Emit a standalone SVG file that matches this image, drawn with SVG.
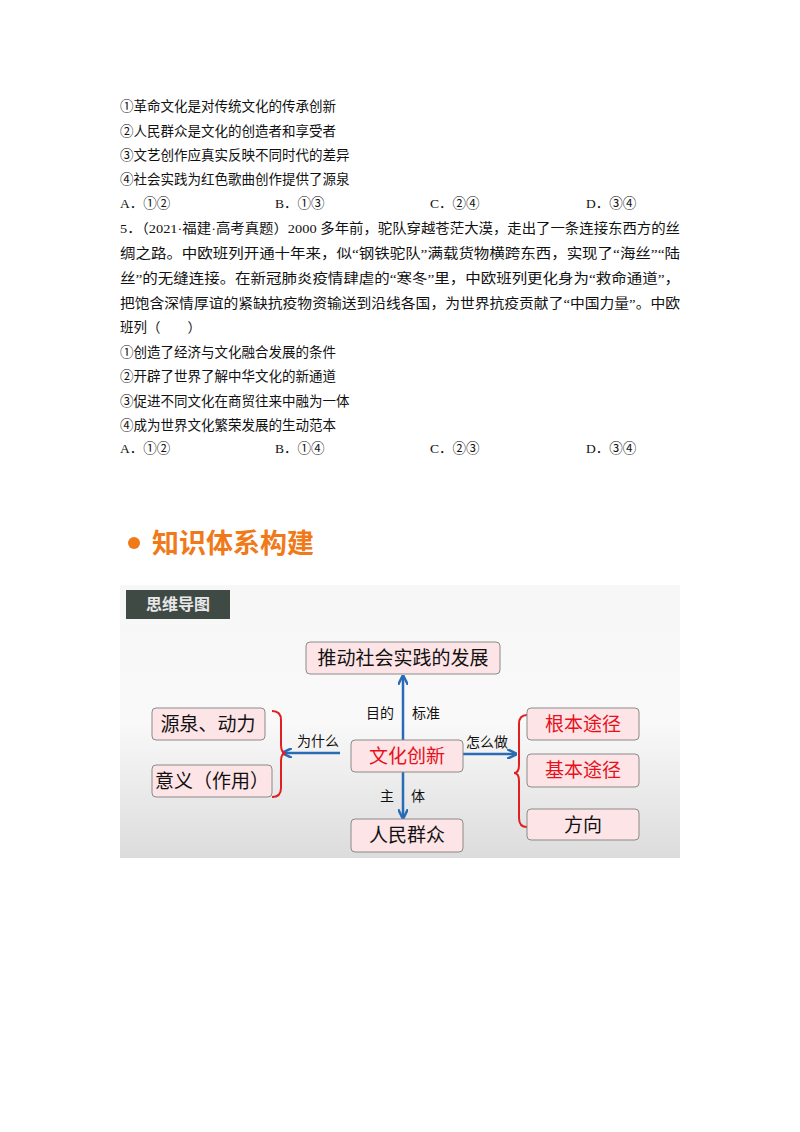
<svg xmlns="http://www.w3.org/2000/svg" width="800" height="1132" viewBox="0 0 800 1132">
<defs>
<style>
.q{font-family:"Liberation Serif","Noto Sans CJK SC",serif;font-size:13.5px;fill:#111}
.n{fill:#fde4e6;stroke:#8a8a8a;stroke-width:1}
.nt{font-family:"Noto Sans CJK SC",sans-serif;font-size:19px;text-anchor:middle;fill:#111}
.red{fill:#e8111b}
.lb{font-family:"Noto Sans CJK SC",sans-serif;font-size:14px;text-anchor:middle;fill:#111}
.ar{stroke:#2a6bb5;stroke-width:2.5;fill:none}
.br{stroke:#e02020;stroke-width:2;fill:none}
</style>
<marker id="ah" viewBox="0 0 10 10" refX="9" refY="5" markerWidth="4" markerHeight="4" orient="auto"><path d="M0,0 L10,5 L0,10" fill="none" stroke="#2a6bb5" stroke-width="2.5"/></marker>
<linearGradient id="bg" x1="0" y1="0" x2="0" y2="1"><stop offset="0" stop-color="#f7f7f7"/><stop offset="0.5" stop-color="#f9f9f9"/><stop offset="1" stop-color="#dcdcdc"/></linearGradient>
</defs>
<rect width="800" height="1132" fill="#fff"/>
<g id="question">
<text class="q" x="120" y="111">①革命文化是对传统文化的传承创新</text>
<text class="q" x="120" y="136">②人民群众是文化的创造者和享受者</text>
<text class="q" x="120" y="160">③文艺创作应真实反映不同时代的差异</text>
<text class="q" x="120" y="184">④社会实践为红色歌曲创作提供了源泉</text>
<text class="q" x="120" y="208">A．①②</text><text class="q" x="275" y="208">B．①③</text><text class="q" x="430" y="208">C．②④</text><text class="q" x="586" y="208">D．③④</text>
<text class="q" x="120" y="233" textLength="560" lengthAdjust="spacingAndGlyphs">5．（2021·福建·高考真题）2000 多年前，驼队穿越苍茫大漠，走出了一条连接东西方的丝</text>
<text class="q" x="120" y="258" textLength="560" lengthAdjust="spacingAndGlyphs">绸之路。中欧班列开通十年来，似“钢铁驼队”满载货物横跨东西，实现了“海丝”“陆</text>
<text class="q" x="120" y="283" textLength="560" lengthAdjust="spacingAndGlyphs">丝”的无缝连接。在新冠肺炎疫情肆虐的“寒冬”里，中欧班列更化身为“救命通道”，</text>
<text class="q" x="120" y="308" textLength="560" lengthAdjust="spacingAndGlyphs">把饱含深情厚谊的紧缺抗疫物资输送到沿线各国，为世界抗疫贡献了“中国力量”。中欧</text>
<text class="q" x="120" y="332">班列（　　）</text>
<text class="q" x="120" y="357">①创造了经济与文化融合发展的条件</text>
<text class="q" x="120" y="381">②开辟了世界了解中华文化的新通道</text>
<text class="q" x="120" y="406">③促进不同文化在商贸往来中融为一体</text>
<text class="q" x="120" y="430">④成为世界文化繁荣发展的生动范本</text>
<text class="q" x="120" y="453">A．①②</text><text class="q" x="275" y="453">B．①④</text><text class="q" x="430" y="453">C．②③</text><text class="q" x="586" y="453">D．③④</text>
</g>
<g id="heading">
<circle cx="134" cy="543" r="6" fill="#f07a1a"/>
<text x="152" y="553" font-family="Noto Sans CJK SC,sans-serif" font-size="27" font-weight="bold" fill="#f07a1a">知识体系构建</text>
</g>
<rect x="120" y="585" width="560" height="273" fill="url(#bg)"/>
<g id="header"><rect x="126" y="590" width="104" height="29" fill="#3f4a45"/><text x="178" y="610" font-family="Noto Sans CJK SC,sans-serif" font-size="16" font-weight="bold" fill="#e8e8e8" text-anchor="middle">思维导图</text></g>
<g id="connectors">
<line class="ar" x1="403" y1="740" x2="403" y2="676" marker-end="url(#ah)"/>
<line class="ar" x1="403" y1="772" x2="403" y2="818" marker-end="url(#ah)"/>
<line class="ar" x1="340" y1="753" x2="283" y2="753" marker-end="url(#ah)"/>
<line class="ar" x1="463" y1="754" x2="516" y2="754" marker-end="url(#ah)"/>
<path class="br" d="M272,711 Q281,711 281,720 L281,745 Q281,753 286,753 Q281,753 281,761 L281,788 Q281,797 272,797"/>
<path class="br" d="M527,715 Q519,715 519,724 L519,765 Q519,773 514,773 Q519,773 519,781 L519,818 Q519,827 527,827"/>
<text class="lb" x="380" y="718">目的</text><text class="lb" x="426" y="718">标准</text>
<text class="lb" x="318" y="746">为什么</text><text class="lb" x="487" y="747">怎么做</text>
<text class="lb" x="387" y="801">主</text><text class="lb" x="418" y="801">体</text>
</g>
<g id="n-top"><rect class="n" x="306" y="642" width="194" height="32" rx="4"/><text class="nt" x="403" y="665">推动社会实践的发展</text></g>
<g id="n-center"><rect class="n" x="351" y="740" width="112" height="32" rx="4"/><text class="nt red" x="407" y="763">文化创新</text></g>
<g id="n-bottom"><rect class="n" x="351" y="819" width="112" height="33" rx="4"/><text class="nt" x="407" y="842">人民群众</text></g>
<g id="n-source"><rect class="n" x="152" y="708" width="113" height="32" rx="4"/><text class="nt" x="208" y="731">源泉、动力</text></g>
<g id="n-meaning"><rect class="n" x="152" y="765" width="120" height="32" rx="4"/><text class="nt" x="212" y="788">意义（作用）</text></g>
<g id="n-root"><rect class="n" x="527" y="708" width="112" height="32" rx="4"/><text class="nt red" x="583" y="731">根本途径</text></g>
<g id="n-basic"><rect class="n" x="527" y="754" width="112" height="33" rx="4"/><text class="nt red" x="583" y="777">基本途径</text></g>
<g id="n-dir"><rect class="n" x="527" y="809" width="112" height="31" rx="4"/><text class="nt" x="583" y="832">方向</text></g>
</svg>
